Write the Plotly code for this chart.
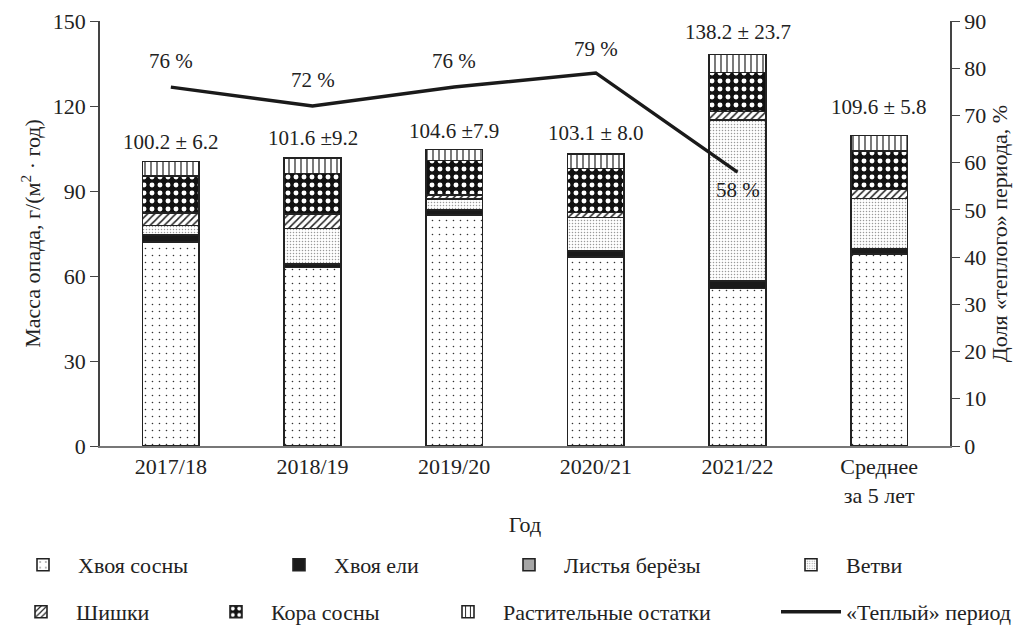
import plotly.graph_objects as go

categories = ["2017/18", "2018/19", "2019/20", "2020/21", "2021/22", "Среднее<br>за 5 лет"]
pine_needles = [72.0, 63.0, 81.5, 66.8, 55.6, 67.8]
spruce_needles = [2.3, 1.2, 1.8, 2.0, 2.4, 1.6]
birch_leaves = [0.2, 0.2, 0.2, 0.2, 0.2, 0.2]
branches = [3.3, 12.4, 3.6, 11.7, 56.9, 17.8]
cones = [4.5, 5.1, 1.5, 1.7, 2.9, 3.2]
pine_bark = [13.0, 14.3, 12.1, 15.6, 13.8, 13.6]
plant_residues = [5.1, 5.4, 3.9, 5.1, 6.4, 5.4]
total_labels = ["100.2 ± 6.2", "101.6 ±9.2", "104.6 ±7.9", "103.1 ± 8.0", "138.2 ± 23.7", "109.6 ± 5.8"]
warm_share = [76, 72, 76, 79, 58]
warm_labels = ["76 %", "72 %", "76 %", "79 %", "58 %"]

FONT = "Liberation Serif"
fig = go.Figure()

# the page puts the figure 8 px in from the window's top-left corner
OFF = 8
W, H = 1032 - OFF, 633 - OFF

# legend slot positions (window pixels): (swatch centre x, row centre y)
legend_slots = [(40, 565), (296, 565), (526, 565), (808, 565),
                (38, 612), (233, 612), (465, 612), (808, 612)]
legend_names = ["legend"] + [f"legend{i}" for i in range(2, 9)]

def add_bar(name, vals, pattern, idx, color="white"):
    fig.add_trace(go.Bar(
        x=categories, y=vals, name=name, width=0.4,
        marker=dict(color=color, line=dict(color="#222", width=1.6), pattern=pattern),
        yaxis="y", legend=legend_names[idx], showlegend=True,
    ))

add_bar("Хвоя сосны", pine_needles,
        dict(shape=".", fgcolor="#333", bgcolor="white", size=7, solidity=0.04, fillmode="replace"), 0)
add_bar("Хвоя ели", spruce_needles, dict(shape=""), 1, color="#1a1a1a")
add_bar("Листья берёзы", birch_leaves, dict(shape=""), 2, color="#a6a6a6")
add_bar("Ветви", branches,
        dict(shape=".", fgcolor="#9a9a9a", bgcolor="white", size=3, solidity=0.2, fillmode="replace"), 3)
add_bar("Шишки", cones,
        dict(shape="/", fgcolor="#222", bgcolor="white", size=5, solidity=0.3, fillmode="replace"), 4)
add_bar("Кора сосны", pine_bark,
        dict(shape=".", fgcolor="white", bgcolor="#111", size=8, solidity=0.3, fillmode="replace"), 5)
add_bar("Растительные остатки", plant_residues,
        dict(shape="|", fgcolor="#222", bgcolor="white", size=6, solidity=0.2, fillmode="replace"), 6)

fig.add_trace(go.Scatter(
    x=categories[:5], y=warm_share, name="«Теплый» период", mode="lines",
    line=dict(color="#1a1a1a", width=3.5), yaxis="y2", legend=legend_names[7], showlegend=True,
))

totals = [a + b + c + d + e + f + g for a, b, c, d, e, f, g in zip(
    pine_needles, spruce_needles, birch_leaves, branches, cones, pine_bark, plant_residues)]
total_shift = [20, 20, 19, 21, 22, 28]
for cat, tot, lab, sh in zip(categories, totals, total_labels, total_shift):
    fig.add_annotation(x=cat, y=tot, yref="y", text=lab, showarrow=False,
                       yanchor="middle", yshift=sh, font=dict(family=FONT, size=21, color="#222"))
warm_shift = [26, 26, 26, 24, -18]
for cat, val, lab, sh in zip(categories, warm_share, warm_labels, warm_shift):
    fig.add_annotation(x=cat, y=val, yref="y2", text=lab, showarrow=False,
                       yanchor="middle", yshift=sh, font=dict(family=FONT, size=21, color="#222"))

# plot area in window pixels: x 100..950, y 21..446
PL, PR, PT, PB = 100 - OFF, 1032 - 950, 21 - OFF, 633 - 446
PW = W - PL - PR
PH = H - PT - PB

legend_layout = {}
for name, (cx, cy) in zip(legend_names, legend_slots):
    legend_layout[name] = dict(
        x=(cx - OFF - 32 - PL) / PW, xanchor="left",
        y=(H - PB - (cy - OFF)) / PH, yanchor="middle",
        itemwidth=60, font=dict(size=22), bgcolor="rgba(0,0,0,0)", visible=True,
    )

fig.update_layout(
    width=W, height=H,
    margin=dict(l=PL, r=PR, t=PT, b=PB, autoexpand=False),
    showlegend=True,
    barmode="stack", bargap=0.6,
    plot_bgcolor="white", paper_bgcolor="white",
    font=dict(family=FONT, size=22, color="#222"),
    xaxis=dict(
        showline=True, linecolor="#777", linewidth=1.5, ticks="",
        showgrid=False, tickfont=dict(size=22),
        title=dict(text="Год", font=dict(size=22), standoff=10),
    ),
    yaxis=dict(
        range=[0, 150], dtick=30, showline=True, linecolor="#444", linewidth=1.5,
        ticks="outside", ticklen=8, tickcolor="#444", showgrid=False, zeroline=False,
        tickfont=dict(size=22),
        title=dict(text="Масса опада, г/(м<sup>2</sup> · год)", font=dict(size=22), standoff=6),
    ),
    yaxis2=dict(
        range=[0, 90], dtick=10, overlaying="y", side="right", anchor="x",
        showline=True, linecolor="#444", linewidth=1.5,
        ticks="outside", ticklen=8, tickcolor="#444", showgrid=False, zeroline=False,
        tickfont=dict(size=22),
        title=dict(text="Доля «теплого» периода, %", font=dict(size=22), standoff=6),
    ),
    **legend_layout,
)

fig.write_html("out.html")
